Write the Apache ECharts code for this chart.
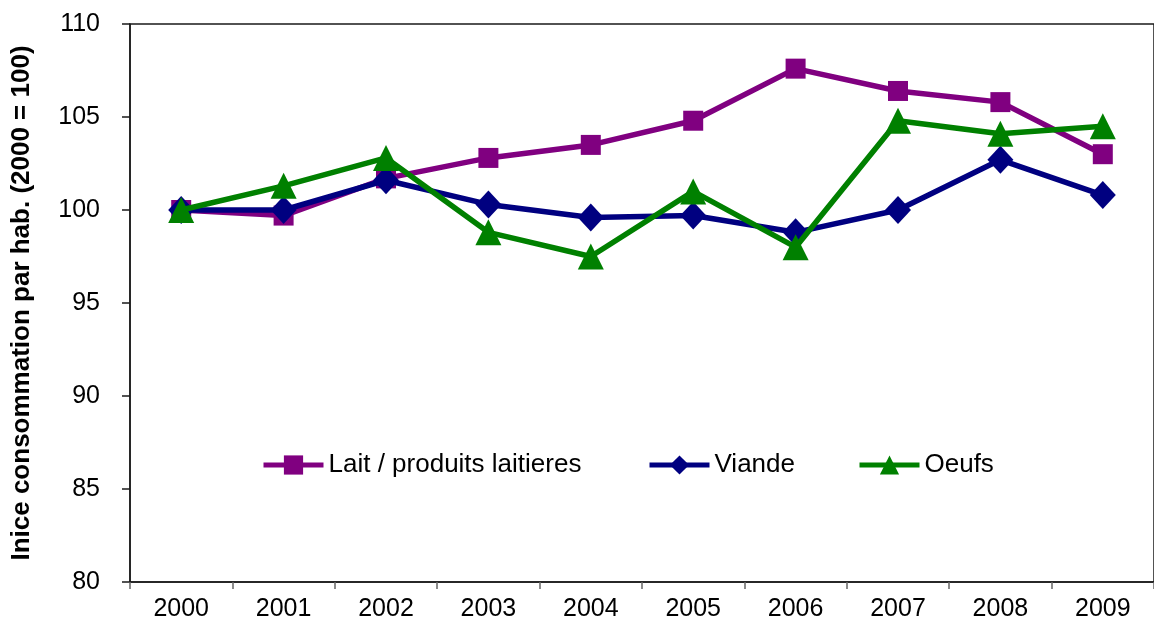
<!DOCTYPE html>
<html>
<head>
<meta charset="utf-8">
<title>Inice consommation par hab.</title>
<script src="https://cdn.jsdelivr.net/npm/echarts@6/dist/echarts.min.js"></script>
<style>
  html, body { margin: 0; padding: 0; background: #ffffff; }
  #chart { width: 1154px; height: 629px; }
</style>
</head>
<body>
<div id="chart"></div>
<script>
// Years on the category axis
const years = ['2000', '2001', '2002', '2003', '2004', '2005', '2006', '2007', '2008', '2009'];

// Consumption index per inhabitant (2000 = 100)
const laitValues   = [100.0, 99.7, 101.7, 102.8, 103.5, 104.8, 107.6, 106.4, 105.8, 103.0];
const viandeValues = [100.0, 100.0, 101.6, 100.3, 99.6, 99.7, 98.8, 100.0, 102.7, 100.8];
const oeufsValues  = [100.0, 101.3, 102.8, 98.8, 97.5, 101.0, 98.0, 104.8, 104.1, 104.5];

// Series names
const seriesNames = ['Lait / produits laitieres', 'Viande', 'Oeufs'];

// Value axis range
const yMin = 80;
const yMax = 110;
const yStep = 5;

const yTitle = 'Inice consommation par hab. (2000 = 100)';

const FONT = "'Liberation Sans', Arial, Helvetica, sans-serif";
const colors = ['#800080', '#000080', '#008000'];

const chart = echarts.init(document.getElementById('chart'), null, { renderer: 'canvas' });

function legendAt(name, left) {
  return {
    data: [name],
    left: left,
    top: 452,
    padding: 0,
    itemWidth: 60,
    itemHeight: 24,
    lineStyle: { width: 5 },
    textStyle: { fontFamily: FONT, fontSize: 26, color: '#000' },
    selectedMode: false
  };
}

const option = {
  animation: false,
  backgroundColor: '#ffffff',
  color: colors,
  grid: {
    left: 130,
    top: 24,
    width: 1030,
    height: 558,
    show: true,
    borderColor: '#1a1a1a',
    borderWidth: 1.5,
    backgroundColor: 'transparent'
  },
  legend: [
    legendAt(seriesNames[0], 261),
    legendAt(seriesNames[1], 647),
    legendAt(seriesNames[2], 857)
  ],
  xAxis: {
    type: 'category',
    data: years,
    boundaryGap: true,
    axisLine: { lineStyle: { color: '#1a1a1a', width: 1.5 } },
    axisTick: { show: true, interval: 0, length: 7, lineStyle: { color: '#666', width: 1.5 } },
    axisLabel: { interval: 0, margin: 15, fontFamily: FONT, fontSize: 25, color: '#000' },
    splitLine: { show: false }
  },
  yAxis: {
    type: 'value',
    min: yMin,
    max: yMax,
    interval: yStep,
    name: yTitle,
    nameLocation: 'middle',
    nameGap: 95,
    nameTextStyle: { fontFamily: FONT, fontSize: 26, fontWeight: 'bold', color: '#000' },
    axisLine: { show: true, lineStyle: { color: '#1a1a1a', width: 1.5 } },
    axisTick: { show: true, length: 8, lineStyle: { color: '#1a1a1a', width: 1.5 } },
    axisLabel: { margin: 30, fontFamily: FONT, fontSize: 25, color: '#000' },
    splitLine: { show: false }
  },
  series: [
    {
      name: seriesNames[0],
      type: 'line',
      data: laitValues,
      symbol: 'rect',
      symbolSize: 20,
      showAllSymbol: true,
      lineStyle: { width: 5.5, color: colors[0] },
      itemStyle: { color: colors[0] },
      z: 2
    },
    {
      name: seriesNames[1],
      type: 'line',
      data: viandeValues,
      symbol: 'diamond',
      symbolSize: [26, 28],
      showAllSymbol: true,
      lineStyle: { width: 5.5, color: colors[1] },
      itemStyle: { color: colors[1] },
      z: 3
    },
    {
      name: seriesNames[2],
      type: 'line',
      data: oeufsValues,
      symbol: 'triangle',
      symbolSize: [26, 26],
      showAllSymbol: true,
      lineStyle: { width: 5.5, color: colors[2] },
      itemStyle: { color: colors[2] },
      z: 4
    }
  ]
};

chart.setOption(option);
</script>
</body>
</html>
